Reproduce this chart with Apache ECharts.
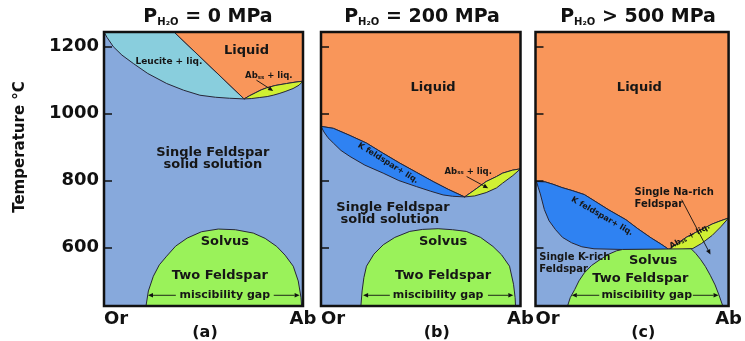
<!DOCTYPE html>
<html><head><meta charset="utf-8">
<script src="https://cdn.jsdelivr.net/npm/echarts@6/dist/echarts.min.js"></script>
<style>html,body{margin:0;padding:0;background:#fff}#c{width:745px;height:341px}</style>
</head><body><div id="c"></div>
<script>
// ---- axes ----
const Y_MIN = 425, Y_MAX = 1244;          // temperature range (°C)
const tempTicks = [600, 800, 1000, 1200];
const compLabels = ['Or', 'Ab'];           // x: 0 = Or, 100 = Ab
const panelPressure = ['= 0 MPa', '= 200 MPa', '> 500 MPa'];
const panelLetters = ['(a)', '(b)', '(c)'];

// ---- panel (a)  P = 0 MPa ----  [x (% Ab), T (°C)]
const a_leuciteLower = [[0,1244],[1.5,1228],[4.7,1200],[9,1175],[14.7,1150],[22,1120],[31.5,1090],[40,1070],[48.2,1055],[56,1049],[63,1046],[70.4,1044]];
const a_leuciteLiqTop = [[35.2,1244]];
const a_abssUpper = [[70.4,1044],[73,1053],[76,1062],[79,1071],[81.7,1077],[86,1084],[91.8,1090],[96,1094],[100,1097]];
const a_abssLower = [[70.4,1044],[74,1045],[78,1048],[82,1051],[85,1055],[88,1060],[91,1066],[95,1075],[98,1085],[100,1097]];
const a_solvus = [[21.1,425],[22.3,470],[24.8,514],[27.8,548],[31.5,574],[36,604],[41.8,628],[49,647],[57.4,655],[66,653],[75,643],[81,627],[86.8,603],[91,577],[95.1,544],[97.6,500],[99,450],[99.3,425]];

// ---- panel (b)  P = 200 MPa ----
const b_kfsUpper = [[0,962],[6.2,956],[14,936],[22.8,912],[31,882],[39.5,852],[48,824],[56.2,797],[64,773],[72,751]];
const b_kfsLower = [[0,962],[1.5,945],[3.5,928],[6.2,912],[10,890],[14.5,872],[22,846],[31.2,822],[39,800],[47.8,782],[55,768],[61.2,757],[66,753],[72,751]];
const b_abssUpper = [[72,751],[77,772],[82.8,797],[88,812],[91,822],[96,831],[100,835]];
const b_abssLower = [[72,751],[77,754],[82.8,764],[88,778],[91,792],[96.2,815],[100,835]];
const b_solvus = [[20,425],[20.6,470],[21.5,510],[22.8,544],[26.5,580],[31.2,608],[37,630],[44.5,648],[51,654],[58.7,656],[66,653],[72.8,648],[80,630],[86.2,603],[90.5,578],[94.5,544],[96.5,490],[97.3,450],[97.5,425]];

// ---- panel (c)  P > 500 MPa ----
const c_kfsUpper = [[0.5,797],[5,796],[9,789],[13.7,779],[19,770],[25.3,758],[30.3,740],[38,712],[46.8,683],[53,656],[60,628],[65,610],[69.1,594]];
const c_kfsLower = [[0.5,797],[1.5,778],[2.5,760],[4.6,713],[7,680],[10.4,653],[14,630],[18.7,614],[24,602],[30.3,596],[45.1,594],[69.1,594]];
const c_abssUpper = [[69.1,594],[73,610],[78,630],[83,645],[87.5,658],[91.5,670],[96,680],[100,688]];
const c_abssLower = [[69.1,594],[76,594],[81.5,597],[86,612],[91.5,636],[96,662],[100,688]];
const c_solvus = [[16.6,425],[18,450],[20.3,474],[22.5,500],[25.3,524],[29,546],[33.5,564],[38,580],[42,590],[45.1,594],[80.6,596],[83,582],[85.5,564],[88,543],[90.5,517],[93,488],[95,458],[97,425]];

// ---- styling / layout ----
const FONT = 'DejaVu Sans';
const COL = {solid:'#87a9dc', liquid:'#f9965a', leucite:'#89cedd', abss:'#d0f033', solvus:'#9af25a', kfs:'#2f82f2', line:'#262637', text:'#161616'};
const rev = a => a.slice().reverse();
const deg = d => d * Math.PI / 180;

const regions = [
  [
    {pts: a_leuciteLower.concat(a_leuciteLiqTop), fill: COL.leucite},
    {pts: a_leuciteLiqTop.concat([[100, Y_MAX]], rev(a_abssUpper)), fill: COL.liquid},
    {pts: a_abssUpper.concat(rev(a_abssLower).slice(1)), fill: COL.abss},
    {pts: a_solvus, fill: COL.solvus}
  ],
  [
    {pts: [[0, Y_MAX],[100, Y_MAX]].concat(rev(b_abssUpper), rev(b_kfsUpper).slice(1)), fill: COL.liquid},
    {pts: b_kfsUpper.concat(rev(b_kfsLower).slice(1)), fill: COL.kfs},
    {pts: b_abssUpper.concat(rev(b_abssLower).slice(1)), fill: COL.abss},
    {pts: b_solvus, fill: COL.solvus}
  ],
  [
    {pts: [[0, Y_MAX],[100, Y_MAX]].concat(rev(c_abssUpper), rev(c_kfsUpper).slice(1), [[0, 797]]), fill: COL.liquid},
    {pts: c_kfsUpper.concat(rev(c_kfsLower).slice(1)), fill: COL.kfs},
    {pts: c_abssUpper.concat(rev(c_abssLower).slice(1)), fill: COL.abss},
    {pts: c_solvus, fill: COL.solvus}
  ]
];

const annotations = [
  {g:0, x:71.6, y:1187, t:'Liquid', s:13},
  {g:0, x:32.6, y:1154, t:'Leucite + liq.', s:9},
  {g:0, x:82.8, y:1112, t:'Ab{ss|ss} + liq.', s:8.5},
  {g:0, x:54.7, y:883, t:'Single Feldspar', s:13},
  {g:0, x:54.7, y:847, t:'solid solution', s:13},
  {g:0, x:60.7, y:617, t:'Solvus', s:13},
  {g:0, x:58.2, y:516, t:'Two Feldspar', s:13},
  {g:0, x:60.7, y:457, t:'miscibility gap', s:11},

  {g:1, x:56.2, y:1078, t:'Liquid', s:13},
  {g:1, x:33.6, y:852, t:'K feldspar+ liq.', s:8, r:-32},
  {g:1, x:73.8, y:827, t:'Ab{ss|ss} + liq.', s:8.5},
  {g:1, x:36.1, y:720, t:'Single Feldspar', s:13},
  {g:1, x:34.5, y:683, t:'solid solution', s:13},
  {g:1, x:61.2, y:618, t:'Solvus', s:13},
  {g:1, x:61.2, y:516, t:'Two Feldspar', s:13},
  {g:1, x:58.7, y:457, t:'miscibility gap', s:11},

  {g:2, x:53.8, y:1078, t:'Liquid', s:13},
  {g:2, x:34.5, y:693, t:'K feldspar+ liq.', s:8, r:-30},
  {g:2, x:51.3, y:765, t:'Single Na-rich', s:10, a:'left'},
  {g:2, x:51.3, y:728, t:'Feldspar', s:10, a:'left'},
  {g:2, x:79.9, y:633, t:'Ab{ss|ss} + liq.', s:8, r:28},
  {g:2, x:2, y:571, t:'Single K-rich', s:10, a:'left'},
  {g:2, x:2, y:534, t:'Feldspar', s:10, a:'left'},
  {g:2, x:60.9, y:561, t:'Solvus', s:13},
  {g:2, x:54.3, y:506, t:'Two Feldspar', s:13},
  {g:2, x:57.6, y:457, t:'miscibility gap', s:11}
];

const arrows = [
  {g:0, from:[76.6,1100], to:[85,1068]},
  {g:0, from:[36.1,457], to:[22.1,457]},
  {g:0, from:[85.3,457], to:[98.3,457]},
  {g:1, from:[73,812], to:[83.8,777]},
  {g:1, from:[34.5,457], to:[21.1,457]},
  {g:1, from:[83.7,457], to:[96.4,457]},
  {g:2, from:[75.7,743], to:[90.6,579]},
  {g:2, from:[33,457], to:[18.8,457]},
  {g:2, from:[81.5,457], to:[94.8,457]}
];

const gridsPx = [
  {left:104, top:32, width:199, height:274},
  {left:321, top:32, width:199.5, height:274},
  {left:535.5, top:32, width:202, height:274}
];
const titleCenters = [208, 422, 638];
const letterCenters = [205, 436.7, 643.3];

const chart = echarts.init(document.getElementById('c'));
const series = [];
[0,1,2].forEach(g => {
  series.push({
    type:'custom', xAxisIndex:g, yAxisIndex:g, z:2, silent:true,
    data: regions[g].map(() => [50, 800]),
    renderItem: (params, api) => {
      const r = regions[g][params.dataIndex];
      return {type:'polygon', shape:{points: r.pts.map(p => api.coord(p))},
        style:{fill:r.fill, stroke:COL.line, lineWidth:1}};
    }
  });
  const arr = arrows.filter(a => a.g === g);
  series.push({
    type:'custom', xAxisIndex:g, yAxisIndex:g, z:3, silent:true,
    data: arr.map(() => [50, 800]),
    renderItem: (params, api) => {
      const a = arr[params.dataIndex];
      const p1 = api.coord(a.from), p2 = api.coord(a.to);
      const dx = p2[0]-p1[0], dy = p2[1]-p1[1], L = Math.hypot(dx, dy);
      const ux = dx/L, uy = dy/L, hl = 5, hw = 2.3;
      const bx = p2[0]-ux*hl, by = p2[1]-uy*hl;
      return {type:'group', children:[
        {type:'line', shape:{x1:p1[0], y1:p1[1], x2:bx, y2:by}, style:{stroke:'#111', lineWidth:0.9}},
        {type:'polygon', shape:{points:[[p2[0],p2[1]],[bx-uy*hw, by+ux*hw],[bx+uy*hw, by-ux*hw]]}, style:{fill:'#111'}}
      ]};
    }
  });
  const ann = annotations.filter(a => a.g === g);
  series.push({
    type:'custom', xAxisIndex:g, yAxisIndex:g, z:4, silent:true,
    data: ann.map(() => [50, 800]),
    renderItem: (params, api) => {
      const a = ann[params.dataIndex];
      const p = api.coord([a.x, a.y]);
      return {type:'text', x:p[0], y:p[1], rotation: deg(a.r || 0),
        style:{text:a.t, fontFamily:FONT, fontWeight:'bold', fontSize:a.s, fill:COL.text,
          align:a.a || 'center', verticalAlign:'middle',
          rich:{ss:{fontSize:a.s*0.65, fontFamily:FONT, fontWeight:'bold', fill:COL.text, verticalAlign:'bottom'}}}};
    }
  });
  series.push({
    type:'custom', xAxisIndex:g, yAxisIndex:g, z:5, silent:true,
    data:[[50, 800]],
    renderItem: (params) => {
      const cs = params.coordSys;
      return {type:'rect', shape:{x:cs.x, y:cs.y, width:cs.width, height:cs.height},
        style:{fill:null, stroke:'#111', lineWidth:2.5}};
    }
  });
});

chart.setOption({
  animation:false,
  backgroundColor:'#fff',
  title: panelPressure.map((p, i) => ({
    text: '{p|P}{h|H₂O}{p| ' + p + '}',
    left: titleCenters[i], top: 7, textAlign:'center', padding:0,
    textStyle:{rich:{
      p:{fontFamily:FONT, fontWeight:'bold', fontSize:19, color:'#111', verticalAlign:'bottom', lineHeight:20},
      h:{fontFamily:FONT, fontWeight:'bold', fontSize:10, color:'#111', verticalAlign:'bottom', lineHeight:14}
    }}
  })),
  grid: gridsPx.map(g => Object.assign({show:true, backgroundColor:COL.solid, borderWidth:0}, g)),
  xAxis: [0,1,2].map(g => ({
    type:'value', gridIndex:g, min:0, max:100, z:6,
    axisLine:{show:false}, axisTick:{show:false}, splitLine:{show:false},
    axisLabel:{customValues:[0,100], formatter: v => v < 50 ? compLabels[0] : compLabels[1],
      fontFamily:FONT, fontWeight:'bold', fontSize:18, color:'#111', margin:4,
      alignMinLabel:'left', alignMaxLabel:'center'}
  })),
  yAxis: [0,1,2].map(g => ({
    type:'value', gridIndex:g, min:Y_MIN, max:Y_MAX, z:6,
    axisLine:{show:false}, splitLine:{show:false},
    axisTick:{show:true, inside:true, length:8, customValues:tempTicks, lineStyle:{color:'#111', width:1.5}},
    axisLabel:{show: g === 0, customValues:tempTicks, formatter: v => String(v), fontFamily:FONT, fontWeight:'bold', fontSize:18, color:'#111', margin:5}
  })),
  graphic: [
    {type:'text', x:20, y:147, rotation:Math.PI/2, style:{text:'Temperature °C', fontFamily:FONT, fontWeight:'bold', fontSize:15, fill:'#111', align:'center', verticalAlign:'middle'}}
  ].concat(panelLetters.map((t, i) => ({type:'text', x:letterCenters[i], y:333, style:{text:t, fontFamily:FONT, fontWeight:'bold', fontSize:16, fill:'#111', align:'center', verticalAlign:'middle'}}))),
  series: series
});
</script>
</body></html>
